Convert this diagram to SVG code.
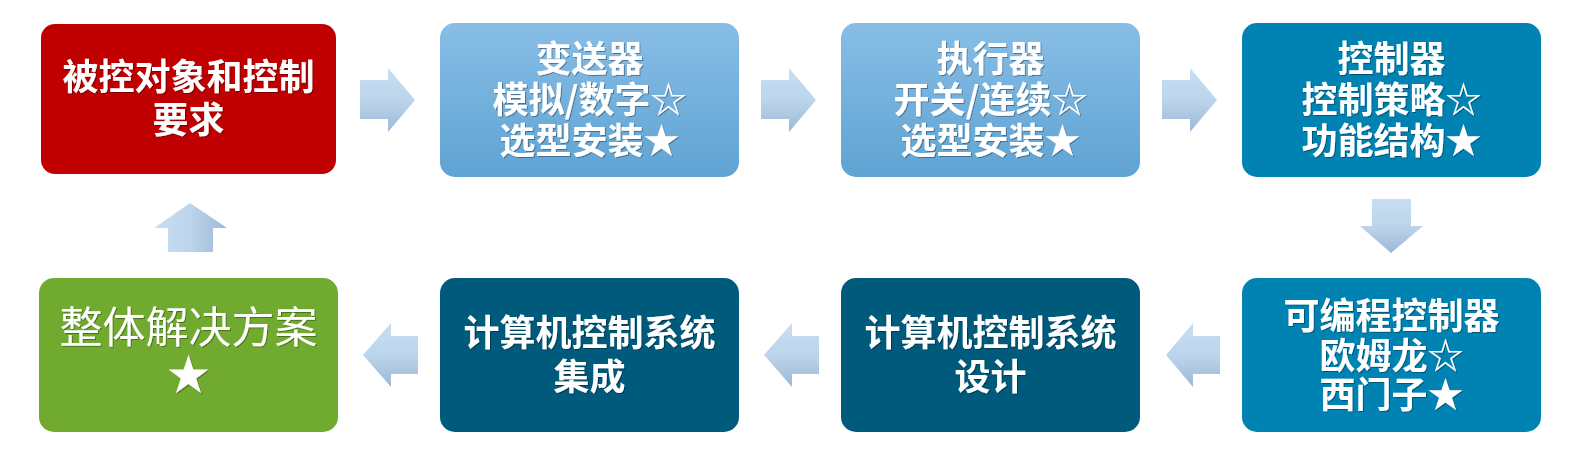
<svg xmlns="http://www.w3.org/2000/svg" width="1580" height="463" viewBox="0 0 1580 463">
  <defs>
    <linearGradient id="gBlue" x1="0" y1="0" x2="0" y2="1">
      <stop offset="0" stop-color="#88bee6"/>
      <stop offset="1" stop-color="#5fa3d3"/>
    </linearGradient>
    <linearGradient id="gArrV" x1="0" y1="0" x2="0" y2="1">
      <stop offset="0" stop-color="#c8def2"/>
      <stop offset="0.5" stop-color="#bcd5ec"/>
      <stop offset="1" stop-color="#9cb8d5"/>
    </linearGradient>
    <linearGradient id="gArrH" x1="0" y1="0" x2="1" y2="0">
      <stop offset="0" stop-color="#c8def2"/>
      <stop offset="0.5" stop-color="#bcd5ec"/>
      <stop offset="1" stop-color="#9cb8d5"/>
    </linearGradient>
    <filter id="sh" x="-10%" y="-10%" width="120%" height="130%">
      <feDropShadow dx="1" dy="1" stdDeviation="0.6" flood-color="#000" flood-opacity="0.35"/>
    </filter>
  </defs>
  <style>
    .t { font-family: "Noto Sans CJK SC", "Noto Sans", sans-serif; font-weight: bold; font-size: 36px; fill: #fff; text-anchor: middle; }
    .tn { font-family: "Noto Sans CJK SC", "Noto Sans", sans-serif; font-weight: normal; font-size: 43px; fill: #fff; text-anchor: middle; }
    .arrV { fill: url(#gArrV); }
    .arrH { fill: url(#gArrH); }
  </style>
  <rect width="1580" height="463" fill="#ffffff"/>

  <g id="connectors">
    <polygon class="arrV" points="360,80 388,80 388,68 415,100 388,132 388,119 360,119"/>
    <polygon class="arrV" points="761,80 789,80 789,68 816,100 789,132 789,119 761,119"/>
    <polygon class="arrV" points="1162,80 1190,80 1190,68 1217,100 1190,132 1190,119 1162,119"/>
    <polygon class="arrV" points="1372,199 1411,199 1411,226 1423,226 1391,253 1360,226 1372,226"/>
    <polygon class="arrV" points="1166,355 1193,323 1193,336 1220,336 1220,374 1193,374 1193,387"/>
    <polygon class="arrV" points="764,355 792,323 792,336 819,336 819,374 792,374 792,387"/>
    <polygon class="arrV" points="363,355 391,323 391,336 418,336 418,374 391,374 391,387"/>
    <polygon class="arrH" points="190,203 227,228 213,228 213,252 168,252 168,228 154,228"/>
  </g>

  <g id="node-requirements">
    <rect x="41" y="24" width="295" height="150" rx="14" fill="#c00000"/>
    <g filter="url(#sh)">
      <text class="t" x="188.5" y="90">被控对象和控制</text>
      <text class="t" x="188.5" y="133">要求</text>
    </g>
  </g>

  <g id="node-transmitter">
    <rect x="440" y="23" width="299" height="154" rx="15" fill="url(#gBlue)"/>
    <g filter="url(#sh)">
      <text class="t" x="589.5" y="72">变送器</text>
      <text class="t" x="589.5" y="113">模拟/数字☆</text>
      <text class="t" x="589.5" y="154">选型安装★</text>
    </g>
  </g>

  <g id="node-actuator">
    <rect x="841" y="23" width="299" height="154" rx="15" fill="url(#gBlue)"/>
    <g filter="url(#sh)">
      <text class="t" x="990.5" y="72">执行器</text>
      <text class="t" x="990.5" y="113">开关/连续☆</text>
      <text class="t" x="990.5" y="154">选型安装★</text>
    </g>
  </g>

  <g id="node-controller">
    <rect x="1242" y="23" width="299" height="154" rx="15" fill="#0083b3"/>
    <g filter="url(#sh)">
      <text class="t" x="1391.5" y="72">控制器</text>
      <text class="t" x="1391.5" y="113">控制策略☆</text>
      <text class="t" x="1391.5" y="154">功能结构★</text>
    </g>
  </g>

  <g id="node-plc">
    <rect x="1242" y="278" width="299" height="154" rx="15" fill="#0083b3"/>
    <g filter="url(#sh)">
      <text class="t" x="1391.5" y="329">可编程控制器</text>
      <text class="t" x="1391.5" y="369">欧姆龙☆</text>
      <text class="t" x="1391.5" y="408">西门子★</text>
    </g>
  </g>

  <g id="node-design">
    <rect x="841" y="278" width="299" height="154" rx="15" fill="#005a7b"/>
    <g filter="url(#sh)">
      <text class="t" x="990.5" y="346">计算机控制系统</text>
      <text class="t" x="990.5" y="390">设计</text>
    </g>
  </g>

  <g id="node-integration">
    <rect x="440" y="278" width="299" height="154" rx="15" fill="#005a7b"/>
    <g filter="url(#sh)">
      <text class="t" x="589.5" y="346">计算机控制系统</text>
      <text class="t" x="589.5" y="390">集成</text>
    </g>
  </g>

  <g id="node-solution">
    <rect x="39" y="278" width="299" height="154" rx="15" fill="#70ab2f"/>
    <g filter="url(#sh)">
      <text class="tn" x="188.5" y="343">整体解决方案</text>
      <text class="tn" x="188.5" y="390">★</text>
    </g>
  </g>
</svg>
